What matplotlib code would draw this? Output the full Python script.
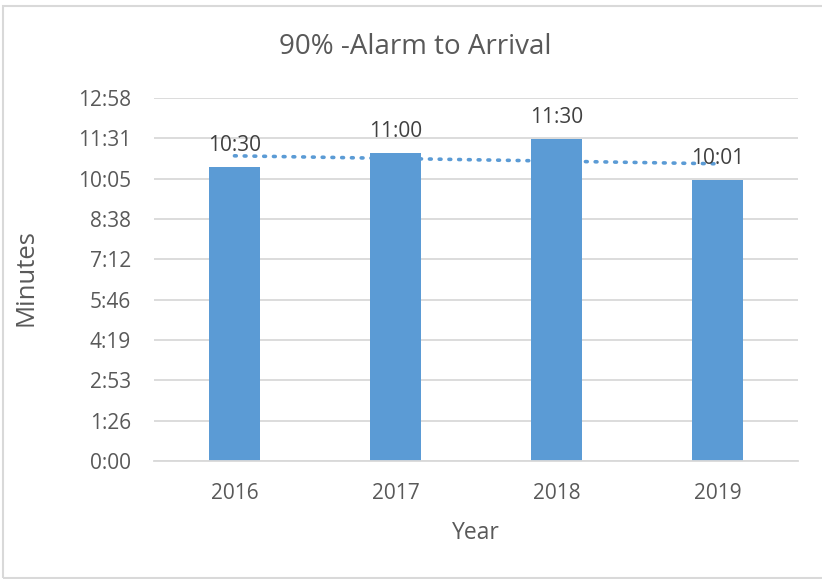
import numpy as np
import matplotlib
matplotlib.use("Agg")
import matplotlib.pyplot as plt
from matplotlib.ticker import FuncFormatter, MultipleLocator
from matplotlib.patches import Rectangle

plt.rcParams['font.family'] = ['Open Sans', 'DejaVu Sans']

years = ["2016", "2017", "2018", "2019"]
# 90th percentile, alarm to arrival, in seconds
seconds = [630, 660, 690, 601]

bar_color = "#5B9BD5"
text_color = "#595959"
grid_color = "#D9D9D9"


def mmss(v, pos=None):
    s = int(round(v))
    return "%d:%02d" % (s // 60, s % 60)


fig = plt.figure(figsize=(8.22, 5.79), dpi=100)
ax = fig.add_axes([0.1873, 0.2038, 0.9708 - 0.1873, 0.8307 - 0.2038])

x = np.arange(len(years))
ax.bar(x, seconds, width=0.317, color=bar_color, zorder=2)

# linear trendline through the bars
k, b = np.polyfit(x, seconds, 1)
ax.plot(x, k * x + b, linestyle=(0, (0.5, 2.2)), dash_capstyle="round",
        color=bar_color, linewidth=2.6, zorder=3)

for xi, v in zip(x, seconds):
    ax.annotate(mmss(v), (xi, v), xytext=(0, 15.5), textcoords="offset points",
                ha="center", va="center", fontsize=15, color="#404040", zorder=4)

# excel-style time axis: step of 0.001 day
step = 86.4
ax.set_ylim(0, step * 9)
ax.set_xlim(-0.5, len(years) - 0.5)
ax.yaxis.set_major_locator(MultipleLocator(step))
ax.yaxis.set_major_formatter(FuncFormatter(mmss))
ax.set_xticks(x)
ax.set_xticklabels(years)

ax.grid(axis="y", color=grid_color, linewidth=1.3, zorder=0)
for s in ["top", "right", "left"]:
    ax.spines[s].set_visible(False)
ax.spines["bottom"].set_color(grid_color)
ax.spines["bottom"].set_linewidth(1.3)
ax.tick_params(axis="both", length=0, colors=text_color, labelsize=15)
ax.tick_params(axis="y", pad=16.5)
ax.tick_params(axis="x", pad=16)

ax.set_xlabel("Year", fontsize=16.5, color=text_color, labelpad=12)
ax.set_ylabel("Minutes", fontsize=18.5, color=text_color, labelpad=0)
ax.yaxis.set_label_coords(26 / 822, 1 - 278 / 579, transform=fig.transFigure)
ax.yaxis.label.set_va("center")
fig.text(415 / 822, 1 - 47 / 579, "90% -Alarm to Arrival", ha="center", va="center",
         fontsize=20, color=text_color)

# chart border
fig.patches.append(Rectangle((3 / 822, 1 / 579), 1.05, 572 / 579, transform=fig.transFigure,
                             fill=False, edgecolor=grid_color, linewidth=1.5))

fig.savefig("out.png", dpi=100)
